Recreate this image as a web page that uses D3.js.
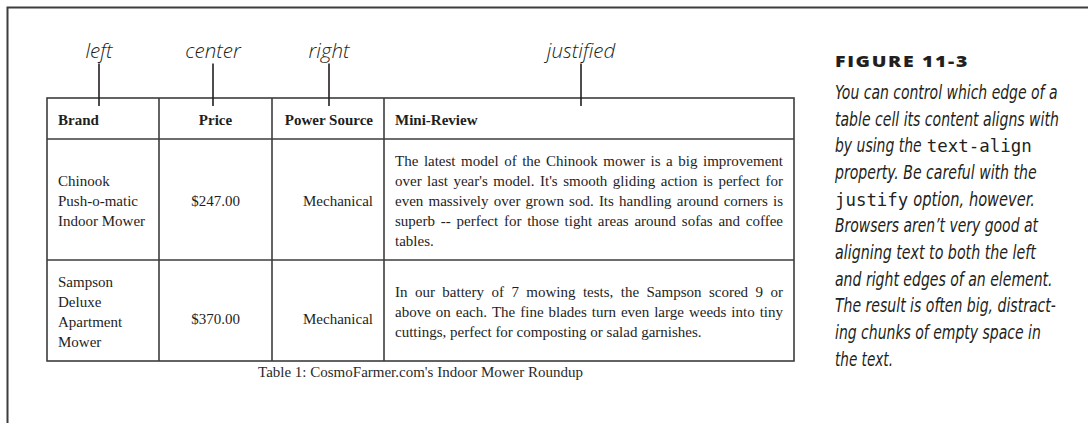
<!DOCTYPE html>
<html>
<head>
<meta charset="utf-8">
<script src="https://cdn.jsdelivr.net/npm/d3@7"></script>
<style>
  html, body { margin: 0; padding: 0; background: #fff; }
  svg { display: block; }
</style>
</head>
<body>
<svg id="chart" width="1088" height="423"></svg>
<script>
// ---------- DATA ----------
const headers = ["Brand", "Price", "Power Source", "Mini-Review"];
const alignments = ["left", "center", "right", "justify"];
const alignLabels = ["left", "center", "right", "justified"];
const brands = ["Chinook Push-o-matic Indoor Mower", "Sampson Deluxe Apartment Mower"];
const prices = [247, 370];
const powerSources = ["Mechanical", "Mechanical"];
const reviewLines = [
  ["The latest model of the Chinook mower is a big improvement",
   "over last year's model. It's smooth gliding action is perfect for",
   "even massively over grown sod. Its handling around corners is",
   "superb -- perfect for those tight areas around sofas and coffee",
   "tables."],
  ["In our battery of 7 mowing tests, the Sampson scored 9 or",
   "above on each. The fine blades turn even large weeds into tiny",
   "cuttings, perfect for composting or salad garnishes."]
];
const tableCaption = "Table 1: CosmoFarmer.com's Indoor Mower Roundup";
const figureTitle = "FIGURE 11-3";
// caption lines: segments [text, isCode]
const figureCaption = [
  [["You can control which edge of a", false]],
  [["table cell its content aligns with", false]],
  [["by using the", false], ["text-align", true]],
  [["property. Be careful with the", false]],
  [["justify", true], ["option, however.", false]],
  [["Browsers aren\u2019t very good at", false]],
  [["aligning text to both the left", false]],
  [["and right edges of an element.", false]],
  [["The result is often big, distract-", false]],
  [["ing chunks of empty space in", false]],
  [["the text.", false]]
];

// ---------- LAYOUT ----------
const svg = d3.select("#chart");
const ink = "#231f20";
const cellInk = "#1e1e1e";
const lineCol = "#3d3d3d";
const serif = "'Liberation Serif', 'Times New Roman', serif";

// frame
svg.append("path")
  .attr("d", "M7.5,423 V7.5 H1088")
  .attr("fill", "none").attr("stroke", lineCol).attr("stroke-width", 2);

const colEdges = [47, 159, 272, 384, 794];
const rowEdges = [98, 139, 260, 361];
const x = d3.scaleOrdinal().domain(headers).range(colEdges.slice(0, 4));
const xEnd = d3.scaleOrdinal().domain(headers).range(colEdges.slice(1));
const rowY = d3.scaleOrdinal().domain(["head", 0, 1]).range(rowEdges.slice(0, 3));
const rowYEnd = d3.scaleOrdinal().domain(["head", 0, 1]).range(rowEdges.slice(1));
const singleLineShift = d3.scaleOrdinal().domain(["head", 0, 1]).range([0, 0, 7]);
const pad = 11;
const lineH = 20;
const fontSize = 15;

// table borders
const tb = svg.append("g").attr("stroke", lineCol).attr("stroke-width", 1.6).attr("fill", "none");
tb.append("rect").attr("x", colEdges[0]).attr("y", rowEdges[0])
  .attr("width", colEdges[4] - colEdges[0]).attr("height", rowEdges[3] - rowEdges[0]);
tb.selectAll("line.v").data(headers.slice(1)).join("line").attr("class", "v")
  .attr("x1", d => x(d)).attr("x2", d => x(d)).attr("y1", rowEdges[0]).attr("y2", rowEdges[3]);
tb.selectAll("line.h").data([0, 1]).join("line").attr("class", "h")
  .attr("x1", colEdges[0]).attr("x2", colEdges[4]).attr("y1", d => rowY(d)).attr("y2", d => rowY(d));

// measuring helper
const meas = svg.append("text").attr("font-family", serif).attr("font-size", fontSize).attr("visibility", "hidden");
function textW(s, weight) {
  meas.attr("font-weight", weight || "normal").text(s);
  return meas.node().getComputedTextLength();
}
function wrap(s, maxW) {
  const words = s.split(" ");
  const lines = [];
  let cur = "";
  words.forEach(w => {
    const t = cur ? cur + " " + w : w;
    if (cur && textW(t) > maxW) { lines.push(cur); cur = w; } else cur = t;
  });
  if (cur) lines.push(cur);
  return lines;
}

// generic cell drawing
function drawCell(col, row, lines, align, weight) {
  const x0 = x(col) + pad, x1 = xEnd(col) - pad;
  const cy = (rowY(row) + rowYEnd(row)) / 2;
  const n = lines.length;
  const first = cy - (n - 1) * lineH / 2 + 6.5 + (n === 1 ? singleLineShift(row) : 0);
  const g = svg.append("g").attr("font-family", serif).attr("font-size", fontSize)
    .attr("fill", cellInk).attr("font-weight", weight || "normal");
  lines.forEach((ln, i) => {
    const y = first + i * lineH;
    if (align === "justify" && i < n - 1) {
      const words = ln.split(" ");
      const ws = words.map(w => textW(w, weight));
      const gap = (x1 - x0 - d3.sum(ws)) / (words.length - 1);
      let cx = x0;
      const t = g.append("text").attr("y", y);
      words.forEach((w, k) => {
        t.append("tspan").attr("x", cx).text(w);
        cx += ws[k] + gap;
      });
    } else {
      const anchor = align === "center" ? "middle" : align === "right" ? "end" : "start";
      const tx = align === "center" ? (x0 + x1) / 2 : align === "right" ? x1 : x0;
      g.append("text").attr("x", tx).attr("y", y).attr("text-anchor", anchor).text(ln);
    }
  });
}

// header
headers.forEach((h, i) => drawCell(h, "head", [h], alignments[i] === "justify" ? "left" : alignments[i], "bold"));

// body
const fmt = d3.format("$.2f");
[0, 1].forEach(r => {
  drawCell(headers[0], r, wrap(brands[r], 92), "left");
  drawCell(headers[1], r, [fmt(prices[r])], "center");
  drawCell(headers[2], r, [powerSources[r]], "right");
  drawCell(headers[3], r, reviewLines[r], "justify");
});

// table caption
svg.append("text").attr("x", (colEdges[0] + colEdges[4]) / 2).attr("y", 377)
  .attr("text-anchor", "middle").attr("font-family", serif).attr("font-size", fontSize)
  .attr("fill", "#2a2a2a").text(tableCaption);

// alignment callouts
const calloutX = [99, 213, 329, 581];
const callout = svg.append("g");
alignLabels.forEach((lab, i) => {
  callout.append("text").attr("x", calloutX[i]).attr("y", 58).attr("text-anchor", "middle")
    .attr("font-family", "'Open Sans', 'DejaVu Sans', sans-serif").attr("font-style", "italic")
    .attr("font-weight", 300).attr("font-size", 20.5).attr("fill", ink).text(lab);
  callout.append("line").attr("x1", calloutX[i]).attr("x2", calloutX[i])
    .attr("y1", 63.5).attr("y2", 106).attr("stroke", ink).attr("stroke-width", 1.6);
});

// helper: draw text stretched horizontally to span [a, b]
function fitText(parent, s, a, b, y, styler) {
  const g = parent.append("g");
  const t = g.append("text").attr("x", 0).attr("y", 0).text(s);
  styler(t);
  const w = t.node().getComputedTextLength();
  const sx = (b - a) / w;
  g.attr("transform", `translate(${a},${y}) scale(${sx},1)`);
  return t;
}

// figure title
fitText(svg, figureTitle, 835, 969, 67, t => t
  .attr("font-family", "'Open Sans', 'DejaVu Sans', sans-serif").attr("font-weight", 800)
  .attr("font-size", 16.5).attr("letter-spacing", 1.4).attr("fill", ink));

// fitted segment extents (start, end) per line
const capExtents = [
  [[835, 1057.7]],
  [[835, 1059]],
  [[835, 921.7], [926.7, 1031.7]],
  [[835, 1036.7]],
  [[835, 908.3], [913.3, 1035]],
  [[835, 1038]],
  [[835, 1036]],
  [[835, 1052.7]],
  [[835, 1056]],
  [[835, 1041]],
  [[835, 893]]
];
const capG = svg.append("g").attr("fill", ink);
figureCaption.forEach((segs, i) => {
  const y = 99 + i * 26.67;
  segs.forEach((s, k) => {
    const [a, b] = capExtents[i][k];
    fitText(capG, s[0], a, b, y, t => {
      if (s[1]) {
        t.attr("font-family", "'DejaVu Sans Mono', 'Liberation Mono', monospace").attr("font-size", 17.5);
      } else {
        t.attr("font-family", "'Liberation Sans Narrow', 'DejaVu Sans Condensed', sans-serif")
          .attr("font-style", "italic").attr("font-size", 19.5);
      }
    });
  });
});
</script>
</body>
</html>
